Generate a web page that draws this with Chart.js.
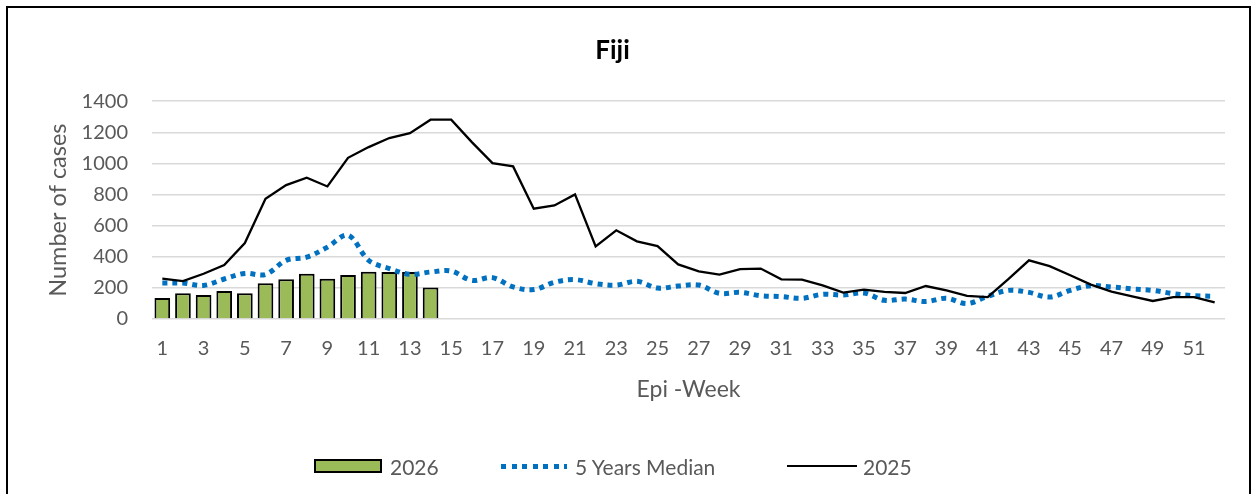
<!DOCTYPE html>
<html>
<head>
<meta charset="utf-8">
<script src="https://cdn.jsdelivr.net/npm/chart.js@4"></script>
<style>
  html, body { margin: 0; padding: 0; background: #fff; }
  body { width: 1257px; height: 494px; position: relative; overflow: hidden; font-family: Lato, "Liberation Sans", sans-serif; }
  #frame { position: absolute; left: 6px; top: 6px; width: 1245px; height: 520px; border: 2px solid #000; box-sizing: border-box; }
  #chart { position: absolute; left: 0; top: 0; }
  .leg { position: absolute; top: 453px; height: 26px; display: flex; align-items: center; font-size: 21px; color: #595959; }
  .leg .sw { margin-right: 8px; }
  .bar-sw { width: 68px; height: 14px; box-sizing: border-box; background: #9BBB59; border: 2px solid #000; }
  .dot-sw { width: 66px; height: 5px; background: repeating-linear-gradient(90deg, #0070C0 0 5px, transparent 5px 10.5px); }
  .line-sw { width: 70px; height: 2px; background: #000; margin-right: 6px !important; }
</style>
</head>
<body>
<div id="frame"></div>
<canvas id="chart" width="1257" height="494"></canvas>
<div class="leg" style="left:314px"><div class="sw bar-sw"></div><span>2026</span></div>
<div class="leg" style="left:501px"><div class="sw dot-sw"></div><span>5 Years Median</span></div>
<div class="leg" style="left:787px"><div class="sw line-sw"></div><span>2025</span></div>
<script>
// Fiji weekly cases by epi-week: 2026 to date, 2025, and the 5-year median.
const weeks = Array.from({ length: 52 }, (_, i) => String(i + 1));

const cases2026 = [135, 165, 154, 180, 165, 229, 255, 291, 259, 283, 304, 302, 302, 202];

const cases2025 = [
  259, 244, 291, 347, 488, 773, 861, 908, 852, 1036, 1105, 1163, 1195, 1281, 1281,
  1137, 1002, 981, 709, 730, 801, 467, 570, 499, 469, 351, 306, 285, 321, 324,
  255, 253, 216, 170, 189, 174, 167, 212, 184, 148, 141, 257, 377, 340, 281,
  221, 176, 146, 116, 141, 141, 107
];

const median5y = [
  231, 231, 216, 257, 293, 286, 377, 398, 462, 538, 377, 324, 287, 302, 308,
  248, 266, 206, 189, 236, 253, 227, 218, 242, 199, 212, 218, 165, 171, 150,
  144, 133, 159, 154, 167, 120, 128, 112, 133, 99, 146, 184, 171, 141, 184,
  214, 206, 193, 184, 163, 150, 146
];

const yTicks = [0, 200, 400, 600, 800, 1000, 1200, 1400];

const grey = '#595959';

new Chart(document.getElementById('chart'), {
  type: 'bar',
  data: {
    labels: weeks,
    datasets: [
      {
        type: 'bar',
        label: '2026',
        data: cases2026,
        backgroundColor: '#9BBB59',
        borderColor: '#000000',
        borderWidth: 2,
        barPercentage: 0.76,
        categoryPercentage: 1,
        order: 3,
      },
      {
        type: 'line',
        label: '5 Years Median',
        data: median5y,
        borderColor: '#0070C0',
        borderWidth: 5,
        borderDash: [5, 5],
        borderCapStyle: 'butt',
        fill: false,
        tension: 0.35,
        pointRadius: 0,
        order: 2,
      },
      {
        type: 'line',
        label: '2025',
        data: cases2025,
        borderColor: '#000000',
        borderWidth: 2.3,
        fill: false,
        tension: 0,
        pointRadius: 0,
        order: 1,
      }
    ]
  },
  options: {
    responsive: false,
    animation: false,
    layout: { padding: { left: 0, right: 32, top: 0, bottom: 75 } },
    plugins: {
      legend: { display: false },
      tooltip: { enabled: false },
      title: {
        display: true,
        text: 'Fiji',
        color: '#000',
        font: { family: 'Lato', size: 26, weight: 'bold', lineHeight: 1.2 },
        padding: { top: 35, bottom: 35 }
      }
    },
    scales: {
      x: {
        offset: true,
        grid: { display: false, drawTicks: false },
        border: { display: false },
        ticks: {
          autoSkip: false,
          maxRotation: 0,
          padding: 18,
          color: grey,
          font: { family: 'Lato', size: 20 },
          callback: function(v, i) { return i % 2 === 0 ? weeks[i] : ''; }
        },
        title: {
          display: true,
          text: 'Epi -Week',
          color: grey,
          font: { family: 'Lato', size: 23 },
          padding: { top: 0, bottom: 16 }
        },
        afterFit: function(scale) { scale.height = 100; }
      },
      y: {
        min: 0,
        max: 1400,
        afterBuildTicks: function(scale) { scale.ticks = yTicks.map(v => ({ value: v })); },
        grid: { color: '#D9D9D9', lineWidth: 1.6, drawTicks: false },
        border: { display: false },
        ticks: {
          padding: 24,
          color: grey,
          font: { family: 'Lato', size: 20 },
          callback: function(v) { return String(v); }
        },
        title: {
          display: true,
          text: 'Number of cases',
          color: grey,
          font: { family: 'Lato', size: 23.5 },
          padding: { top: 44, bottom: 0 }
        },
        afterFit: function(scale) { scale.width = 152; }
      }
    }
  }
});
</script>
</body>
</html>
